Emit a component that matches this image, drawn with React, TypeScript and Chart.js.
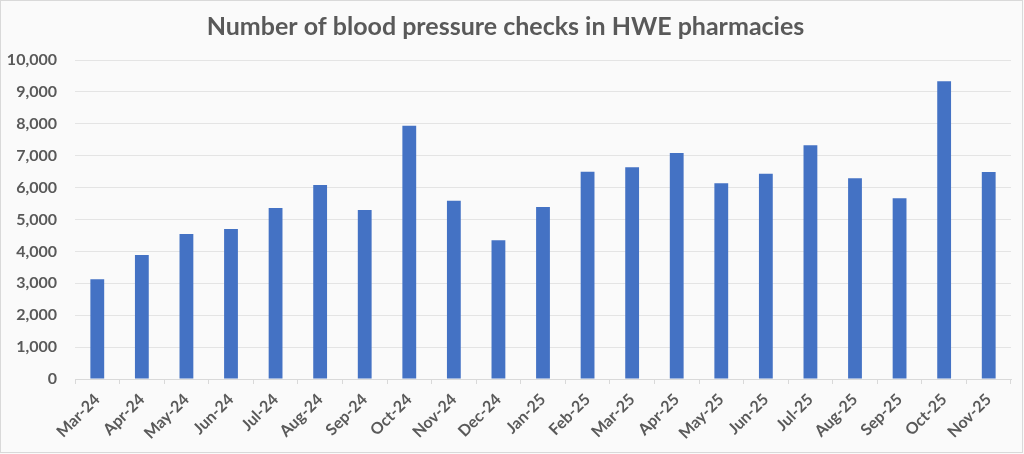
import React, { useEffect, useRef } from "react";
import { Chart, registerables } from "chart.js";

Chart.register(...registerables);

const months = [
  "Mar-24", "Apr-24", "May-24", "Jun-24", "Jul-24", "Aug-24", "Sep-24",
  "Oct-24", "Nov-24", "Dec-24", "Jan-25", "Feb-25", "Mar-25", "Apr-25",
  "May-25", "Jun-25", "Jul-25", "Aug-25", "Sep-25", "Oct-25", "Nov-25",
];

const checks = [
  3125, 3890, 4545, 4700, 5360, 6080, 5300,
  7940, 5590, 4350, 5390, 6500, 6635, 7085,
  6135, 6435, 7325, 6290, 5665, 9330, 6490,
];

const yMin = 0;
const yMax = 10000;
const yStep = 1000;

const textGrey = "#595959";

// background fill + thin frame like the spreadsheet chart box
const framePlugin = {
  id: "frame",
  beforeDraw(chart: Chart) {
    const { ctx, width, height } = chart;
    ctx.save();
    ctx.fillStyle = "#fafafa";
    ctx.fillRect(0, 0, width, height);
    ctx.strokeStyle = "#d9d9d9";
    ctx.lineWidth = 1;
    ctx.strokeRect(0.5, 0.5, width - 2, height - 2);
    ctx.restore();
  },
};

const App: React.FC = () => {
  const canvasRef = useRef<HTMLCanvasElement | null>(null);
  const chartRef = useRef<Chart | null>(null);

  useEffect(() => {
    document.body.style.margin = "0";
    const ctx = canvasRef.current?.getContext("2d");
    if (!ctx) return;
    if (chartRef.current) chartRef.current.destroy();

    chartRef.current = new Chart(ctx, {
      type: "bar",
      data: {
        labels: months,
        datasets: [
          {
            label: "Blood pressure checks",
            data: checks,
            backgroundColor: "#4472c4",
            borderWidth: 0,
            categoryPercentage: 1,
            barPercentage: 0.31,
          },
        ],
      },
      options: {
        animation: false,
        responsive: true,
        maintainAspectRatio: false,
        layout: { padding: { left: 0, right: 13, top: 0, bottom: 0 } },
        plugins: {
          legend: { display: false },
          tooltip: { enabled: false },
          title: {
            display: true,
            text: "Number of blood pressure checks in HWE pharmacies",
            color: textGrey,
            font: { family: "Lato", size: 25, weight: "bold" },
            padding: { top: 12, bottom: 18 },
          },
        },
        scales: {
          x: {
            grid: {
              display: true,
              drawOnChartArea: false,
              drawTicks: true,
              tickLength: 5,
              color: "#d9d9d9",
            },
            border: { display: true, color: "#d9d9d9" },
            ticks: {
              color: textGrey,
              font: { family: "Lato", size: 16, weight: "bold" },
              minRotation: 45,
              maxRotation: 45,
              autoSkip: false,
              padding: 6,
            },
            afterFit(scale: any) {
              scale.height = 75;
            },
          },
          y: {
            min: yMin,
            max: yMax,
            grid: { color: "#e4e4e4", drawTicks: false },
            border: { display: false },
            ticks: {
              stepSize: yStep,
              color: textGrey,
              font: { family: "Lato", size: 16, weight: "bold" },
              padding: 18,
              callback: (v: any) => Number(v).toLocaleString("en-US"),
            },
            afterFit(scale: any) {
              scale.width = 75;
            },
          },
        },
      },
      plugins: [framePlugin],
    });

    return () => {
      if (chartRef.current) {
        chartRef.current.destroy();
        chartRef.current = null;
      }
    };
  }, []);

  return (
    <div style={{ width: 1024, height: 454, position: "relative" }}>
      <canvas ref={canvasRef}></canvas>
    </div>
  );
};

export default App;
